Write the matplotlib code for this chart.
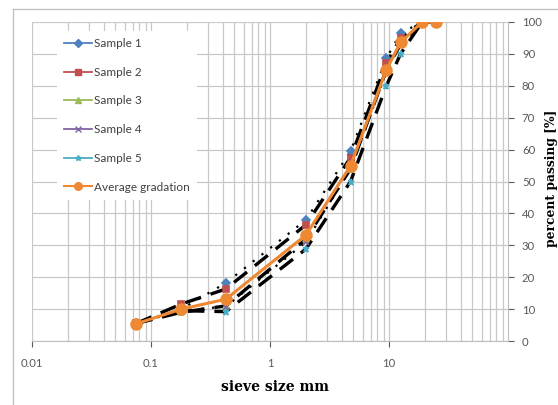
import matplotlib.pyplot as plt
from matplotlib.lines import Line2D

# tamices (mm) y porcentaje que pasa
sieve = [0.075, 0.18, 0.425, 2, 4.75, 9.5, 12.5, 19, 25]
sample1 = [5.5, 10.0, 18.2, 37.9, 59.5, 88.6, 96.5, 100, 100]
sample2 = [5.5, 11.6, 16.3, 36.4, 57.5, 87.0, 95.0, 100, 100]
sample3 = [5.5, 9.0, 11.0, 31.9, 54.0, 85.0, 93.0, 100, 100]
sample4 = [5.5, 9.5, 10.8, 31.0, 54.0, 84.4, 93.5, 100, 100]
sample5 = [5.5, 9.5, 9.2, 28.8, 50.0, 80.0, 90.0, 100, 100]
average = [5.4, 10.0, 13.1, 33.2, 54.9, 85.0, 93.6, 100, 100]

labels = ['Sample 1', 'Sample 2', 'Sample 3', 'Sample 4', 'Sample 5']
colors = ['#4F81BD', '#C0504D', '#9BBB59', '#8064A2', '#4BACC6']
markers = ['D', 's', '^', 'x', '*']
estilos = [(0, (1, 4)), (0, (5, 3)), (0, (5, 3)), (0, (1, 4)), (0, (5, 3))]
anchos = [1.6, 2.4, 2.4, 1.6, 2.4]
orange = '#EE8833'

fig = plt.figure(figsize=(5.58, 4.05), dpi=100)
ax = fig.add_axes([32/558, 1-341/405, 476/558, 319/405])

series = [sample1, sample2, sample3, sample4, sample5]
for s, c, m, ls, lw in zip(series, colors, markers, estilos, anchos):
    ax.plot(sieve, s, color='black', linestyle=ls, linewidth=lw, zorder=3)
    ax.plot(sieve, s, linestyle='none', marker=m, color=c, markersize=4.5,
            markeredgewidth=1.2, zorder=4)

ax.plot(sieve, average, '-o', color=orange, linewidth=2.2, markersize=8, zorder=5)

# ejes
ax.set_xscale('log')
ax.set_xlim(0.01, 100)
ax.set_ylim(0, 100)
ax.set_xticks([0.01, 0.1, 1, 10])
ax.set_xticklabels(['0.01', '0.1', '1', '10'])
ax.set_yticks(range(0, 101, 10))
ax.yaxis.tick_right()
ax.tick_params(axis='both', labelsize=8.2, colors='#595959', length=4, width=0.8)
ax.tick_params(axis='x', which='minor', length=0)
ax.tick_params(axis='x', pad=8)
ax.tick_params(axis='y', pad=6)
for lab in ax.get_xticklabels() + ax.get_yticklabels():
    lab.set_fontfamily('Lato')
ax.grid(True, which='both', color='#C8C8C8', linewidth=0.9)
for sp in ['top', 'left']:
    ax.spines[sp].set_visible(False)
ax.spines['bottom'].set_color('#BDBDBD')
ax.spines['right'].set_color('#BDBDBD')

# leyenda
handles = [Line2D([], [], color=c, marker=m, markersize=4, linewidth=1.3)
           for c, m in zip(colors, markers)]
handles.append(Line2D([], [], color=orange, marker='o', markersize=5.5, linewidth=1.5))
leg = ax.legend(handles, labels + ['Average gradation'], loc='upper left',
                bbox_to_anchor=(51/558, 1-25/405), bbox_transform=fig.transFigure,
                frameon=True, fancybox=False, framealpha=1, edgecolor='none',
                prop={'family': 'Lato', 'size': 8.5}, handlelength=2.4,
                handletextpad=0.15, labelspacing=1.5, borderpad=0.6)
for t in leg.get_texts():
    t.set_color('#404040')

fig.text(275/558, 1-387/405, 'sieve size mm', ha='center', va='center',
         fontfamily='DejaVu Serif', fontweight='bold', fontsize=10)
fig.text(551/558, 1-178/405, 'percent passing [%]', ha='center', va='center',
         rotation=90, fontfamily='DejaVu Serif', fontweight='bold', fontsize=8.8)

# marco exterior
fig.add_artist(Line2D([13/558, 13/558], [0, 1-9/405], color='#BFBFBF', linewidth=0.9))
fig.add_artist(Line2D([13/558, 1], [1-9/405, 1-9/405], color='#BFBFBF', linewidth=0.9))

fig.savefig('out.png', dpi=100)
